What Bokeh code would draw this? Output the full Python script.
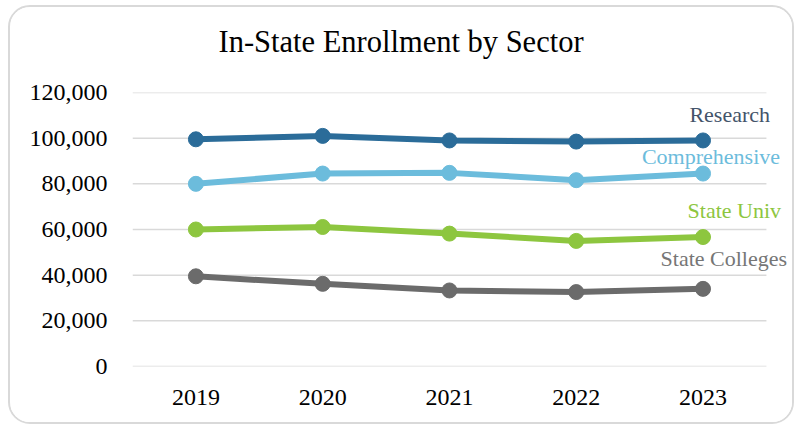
import numpy as np
from bokeh.plotting import figure
from bokeh.models import (ColumnDataSource, Range1d, FixedTicker,
                          NumeralTickFormatter, Label, Title)
from bokeh.embed import file_html
from bokeh.resources import INLINE

years = ["2019", "2020", "2021", "2022", "2023"]
research = [99500, 101000, 99000, 98500, 99000]
comprehensive = [80000, 84500, 84800, 81600, 84500]
state_univ = [60000, 61100, 58200, 55000, 56700]
state_colleges = [39500, 36200, 33300, 32600, 34000]
y_ticks = [0, 20000, 40000, 60000, 80000, 100000, 120000]

series = [
    ("Research", research, "#2b6c99", "#44546a", 67, 26),
    ("Comprehensive", comprehensive, "#6cbcdc", "#6cbcdc", 77, 17),
    ("State Univ", state_univ, "#8dc63f", "#8dc63f", 78, 27),
    ("State Colleges", state_colleges, "#6b6b6b", "#767676", 84, 30),
]

FONT = "Liberation Serif"

# category slots: one unit per year, centred at i + 0.5
xpos = np.arange(len(years)) + 0.5

p = figure(x_range=Range1d(0, len(years) + 0.19), y_range=Range1d(0, 120000),
           width=786, height=419, output_backend="svg", toolbar_location=None,
           min_border_left=122, min_border_right=6, min_border_top=85,
           min_border_bottom=60,
           title="In-State Enrollment by Sector")
p.styles = {"position": "absolute", "top": "5px", "left": "8px",
            "border": "2px solid #d9d9d9", "border-radius": "22px",
            "overflow": "hidden"}

p.title.align = "left"
p.title.offset = 86
p.title.text_font = FONT
p.title.text_font_size = "30.5px"
p.title.text_font_style = "normal"
p.title.text_color = "#000000"
p.title.standoff = 10

# blank spacer between the title and the plot area
p.add_layout(Title(text=" ", text_font_size="24px", standoff=0), "above")

p.outline_line_color = None
p.xgrid.grid_line_color = None
p.ygrid.grid_line_color = None

# horizontal gridlines spanning the category slots only
p.segment(x0=0, x1=len(years), y0=y_ticks, y1=y_ticks,
          line_color="#d9d9d9", line_width=1.5, level="underlay")

p.xaxis.ticker = FixedTicker(ticks=list(xpos))
p.xaxis.major_label_overrides = {float(x): y for x, y in zip(xpos, years)}
p.yaxis.ticker = FixedTicker(ticks=y_ticks)
p.yaxis.formatter = NumeralTickFormatter(format="0,0")
for ax in (p.xaxis[0], p.yaxis[0]):
    ax.axis_line_color = None
    ax.major_tick_line_color = None
    ax.minor_tick_line_color = None
    ax.major_label_text_font = FONT
    ax.major_label_text_font_size = "24px"
    ax.major_label_text_color = "#000000"
p.yaxis.major_label_standoff = 19
p.xaxis.major_label_standoff = 17

for name, vals, color, lcolor, xo, yo in series:
    src = ColumnDataSource(dict(x=xpos, y=vals))
    p.line("x", "y", source=src, line_color=color, line_width=6)
    p.scatter("x", "y", source=src, color=color, size=15)
    p.add_layout(Label(x=float(xpos[-1]), y=vals[-1], text=name,
                       x_offset=xo, y_offset=yo, text_align="right",
                       text_baseline="middle", text_font=FONT,
                       text_font_size="22px", text_color=lcolor))

open("out.html", "w").write(file_html(p, INLINE))
